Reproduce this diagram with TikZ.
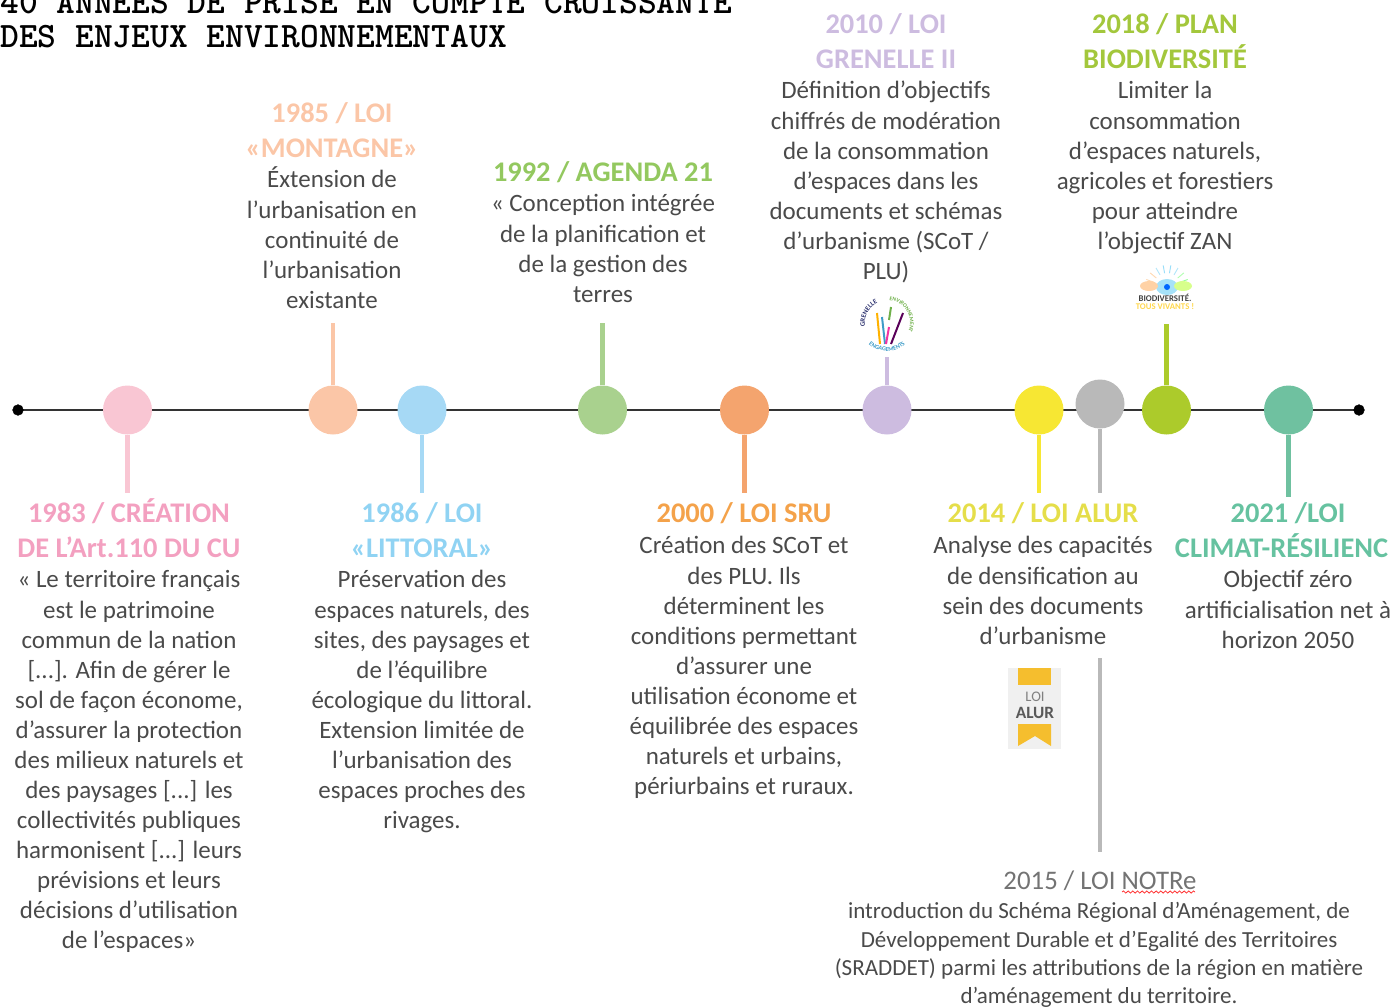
\documentclass[tikz,border=0pt]{standalone}
\usepackage{fontspec}
\setmainfont{Carlito}
\usetikzlibrary{decorations.pathmorphing,decorations.text}
\newcommand{\hs}{\rule{0pt}{20bp}}
\newcommand{\bs}{\rule{0pt}{17bp}}
\definecolor{bodygray}{HTML}{4A4A4A}
\definecolor{pinkdot}{HTML}{F9C6D3}
\definecolor{pinkhead}{HTML}{F3A0C0}
\definecolor{peachdot}{HTML}{FBC6A7}
\definecolor{bluedot}{HTML}{A6D9F5}
\definecolor{bluehead}{HTML}{90D3F3}
\definecolor{greendot}{HTML}{A9D18E}
\definecolor{greenhead}{HTML}{93C85F}
\definecolor{orangedot}{HTML}{F4A46E}
\definecolor{orangehead}{HTML}{F4A24A}
\definecolor{lilacdot}{HTML}{CDBCE0}
\definecolor{yellowdot}{HTML}{F7E733}
\definecolor{yellowhead}{HTML}{E5DE4A}
\definecolor{graydot}{HTML}{B9B9B9}
\definecolor{limedot}{HTML}{ACCB2B}
\definecolor{limehead}{HTML}{A3C73C}
\definecolor{tealdot}{HTML}{6FC1A0}
\definecolor{tealhead}{HTML}{66C2A0}
\definecolor{logoyellow}{HTML}{F5BE2E}
\definecolor{logonavy}{HTML}{2F3470}
\definecolor{logogreen}{HTML}{6FB04A}
\definecolor{logoblue}{HTML}{3E9CC8}
\tikzset{
  dot/.style={circle,minimum size=36.75bp,inner sep=0pt,fill=#1},
  stem/.style={line width=3.6bp,draw=#1},
  headtxt/.style={align=center,inner sep=0pt,anchor=north,text=#1,font=\fontsize{21.4}{25.7}\selectfont\bfseries},
  bodytxt/.style={align=center,inner sep=0pt,anchor=north,text=bodygray,font=\fontsize{18.8}{22.63}\selectfont},
}
\begin{document}
\begin{tikzpicture}[x=0.75bp,y=-0.75bp]
  \clip (0,0) rectangle (1392,1007);
  % title
  \node[inner sep=0pt,anchor=north west,align=left,font=\fontsize{26.9}{25.8}\selectfont\ttfamily\bfseries] (title) at (0,-16)
    {40 ANNÉES DE PRISE EN COMPTE CROISSANTE\\DES ENJEUX ENVIRONNEMENTAUX};

  % axis
  \coordinate (start) at (18,410);
  \coordinate (stop) at (1359,410);
  \draw[line width=1.6bp,black!80] (start) -- (stop);
  \filldraw[black] (start) circle (4bp);
  \filldraw[black] (stop) circle (4bp);

  % dots on the axis
  \node[dot=pinkdot] (d1983) at (127.5,410) {};
  \node[dot=peachdot] (d1985) at (333,410) {};
  \node[dot=bluedot] (d1986) at (422,410) {};
  \node[dot=greendot] (d1992) at (602.5,410) {};
  \node[dot=orangedot] (d2000) at (744.5,410) {};
  \node[dot=lilacdot] (d2010) at (887,410) {};
  \node[dot=yellowdot] (d2014) at (1039,410) {};
  \node[dot=graydot] (d2015) at (1100,404) {};
  \node[dot=limedot] (d2018) at (1166.5,410) {};
  \node[dot=tealdot] (d2021) at (1288.5,410) {};

  % stems
  \coordinate (e1983) at (127.5,493);
  \coordinate (e1985) at (333,323);
  \coordinate (e1986) at (422,493);
  \coordinate (e1992) at (602.5,323);
  \coordinate (e2000) at (744.5,493);
  \coordinate (e2010) at (887,357);
  \coordinate (e2014) at (1039,493);
  \coordinate (e2015) at (1100,493);
  \coordinate (f2015) at (1100,658);
  \coordinate (g2015) at (1100,852);
  \coordinate (e2018) at (1166.5,324);
  \coordinate (e2021) at (1288.5,497);
  \draw[stem=pinkdot] (d1983) -- (e1983);
  \draw[stem=peachdot] (d1985) -- (e1985);
  \draw[stem=bluedot] (d1986) -- (e1986);
  \draw[stem=greendot] (d1992) -- (e1992);
  \draw[stem=orangedot] (d2000) -- (e2000);
  \draw[stem=lilacdot] (d2010) -- (e2010);
  \draw[stem=yellowdot] (d2014) -- (e2014);
  \draw[stem=graydot] (d2015) -- (e2015);
  \draw[stem=graydot] (f2015) -- (g2015);
  \draw[stem=limedot] (d2018) -- (e2018);
  \draw[stem=tealdot] (d2021) -- (e2021);

  % events below the axis
  \node[headtxt=pinkhead] (h1983) at (129,496) {\hs 1983 / CRÉATION\\DE L’Art.110 DU CU};
  \node[bodytxt] (t1983) at (129,565) {\bs « Le territoire français\\est le patrimoine\\commun de la nation\\{[...]}. Afin de gérer le\\sol de façon économe,\\d’assurer la protection\\des milieux naturels et\\des paysages [...] les\\collectivités publiques\\harmonisent [...] leurs\\prévisions et leurs\\décisions d’utilisation\\de l’espaces»};
  \node[headtxt=bluehead] (h1986) at (422,496) {\hs 1986 / LOI\\«LITTORAL»};
  \node[bodytxt] (t1986) at (422,565) {\bs Préservation des\\espaces naturels, des\\sites, des paysages et\\de l’équilibre\\écologique du littoral.\\Extension limitée de\\l’urbanisation des\\espaces proches des\\rivages.};
  \node[headtxt=orangehead] (h2000) at (744,496) {\hs 2000 / LOI SRU};
  \node[bodytxt] (t2000) at (744,531) {\bs Création des SCoT et\\des PLU. Ils\\déterminent les\\conditions permettant\\d’assurer une\\utilisation économe et\\équilibrée des espaces\\naturels et urbains,\\périurbains et ruraux.};
  \node[headtxt=yellowhead] (h2014) at (1043,496) {\hs 2014 / LOI ALUR};
  \node[bodytxt] (t2014) at (1043,531) {\bs Analyse des capacités\\de densification au\\sein des documents\\d’urbanisme};
  \node[headtxt=tealhead] (h2021) at (1288,496) {\hs 2021 /LOI\\\hspace*{-9.7bp}CLIMAT-RÉSILIENC};
  \node[bodytxt] (t2021) at (1288,565) {\bs Objectif zéro\\artificialisation net à\\horizon 2050};

  % events above the axis
  \node[headtxt=peachdot] (h1985) at (332,96) {\hs 1985 / LOI\\«MONTAGNE»};
  \node[bodytxt] (t1985) at (332,165) {\bs Éxtension de\\l’urbanisation en\\continuité de\\l’urbanisation\\existante};
  \node[headtxt=greenhead] (h1992) at (603,155) {\hs 1992 / AGENDA 21};
  \node[bodytxt] (t1992) at (603,189) {\bs « Conception intégrée\\de la planification et\\de la gestion des\\terres};
  \node[headtxt=lilacdot] (h2010) at (886,7) {\hs 2010 / LOI\\GRENELLE II};
  \node[bodytxt] (t2010) at (886,76) {\bs Définition d’objectifs\\chiffrés de modération\\de la consommation\\d’espaces dans les\\documents et schémas\\d’urbanisme (SCoT /\\PLU)};
  \node[headtxt=limehead] (h2018) at (1165,7) {\hs 2018 / PLAN\\BIODIVERSITÉ};
  \node[bodytxt] (t2018) at (1165,76) {\bs Limiter la\\consommation\\d’espaces naturels,\\agricoles et forestiers\\pour atteindre\\l’objectif ZAN};

  % 2015, bottom right
  \node[headtxt=black!55,font=\fontsize{20.2}{25.6}\selectfont] (h2015) at (1100,863) {\hs 2015 / LOI NOTRe};
  \node[bodytxt,font=\fontsize{17.35}{21.2}\selectfont] (t2015) at (1099,896) {\bs introduction du Schéma Régional d’Aménagement, de\\Développement Durable et d’Egalité des Territoires\\(SRADDET) parmi les attributions de la région en matière\\d’aménagement du territoire.};
  \draw[red!80,line width=0.6bp,decorate,decoration={snake,amplitude=0.8bp,segment length=3.5bp}] (1122,892) -- (1195,892);

  % logo loi alur
  \fill[black!6] (1008,668) rectangle (1061,749);
  \fill[logoyellow] (1018,668) rectangle (1051,685);
  \node[inner sep=0pt,text=gray,font=\fontsize{11}{11}\selectfont] (alur1) at (1035,697) {LOI};
  \node[inner sep=0pt,text=black!65,font=\fontsize{13}{13}\selectfont\bfseries] (alur2) at (1035,713) {ALUR};
  \fill[logoyellow] (1018,724) -- (1051,724) -- (1051,746) -- (1035,736) -- (1018,746) -- cycle;

  % logo grenelle
  \draw[line width=1.5bp,orange!60!yellow] (877,313) -- (880,344);
  \draw[line width=1.5bp,logoblue] (882,317) -- (885,344);
  \draw[line width=1.5bp,magenta!80] (889,327) -- (886,344);
  \draw[line width=1.5bp,logogreen] (891,307) -- (889,320);
  \draw[line width=1.5bp,violet!70!black] (903,313) -- (891,344);
  \begin{scope}[shift={(887,323)}]
    \path[decorate,decoration={text along path,text align=center,text={|\fontsize{5.2}{6}\selectfont\bfseries\color{logonavy}|GRENELLE}}] (-200:22) arc (-200:-105:22);
    \path[decorate,decoration={text along path,text align=center,text={|\fontsize{4.2}{5}\selectfont\bfseries\color{logogreen}|ENVIRONNEMENT}}] (-98:23) arc (-98:35:23);
    \path[decorate,decoration={text along path,text align=center,text={|\fontsize{4.6}{6}\selectfont\bfseries\color{logoblue}|ENGAGEMENTS}}] (-210:28) arc (-210:-330:28);
  \end{scope}

  % logo biodiversite
  \foreach \ang/\col in {-20/green!40,-40/green!30,-60/cyan!30,-80/cyan!40,-100/cyan!40,-120/cyan!30,-140/orange!30,-160/orange!30}
    \draw[line width=0.7bp,\col] (1167,287) ++(\ang:14) -- ++(\ang:8);
  \fill[cyan!35] (1167,287) ellipse (11 and 8);
  \fill[blue!60!cyan] (1167,287) circle (3);
  \fill[green!35!yellow!45] (1183,286) ellipse (9 and 5);
  \fill[orange!35] (1149,286) ellipse (9 and 5);
  \node[inner sep=0pt,font=\fontsize{6.6}{7}\selectfont\bfseries,text=black!75] (bio1) at (1165,298) {BIODIVERSITÉ.};
  \node[inner sep=0pt,font=\fontsize{6.6}{7}\selectfont\bfseries,text=orange!45!yellow!70] (bio2) at (1165,307) {TOUS VIVANTS !};
\end{tikzpicture}
\end{document}
